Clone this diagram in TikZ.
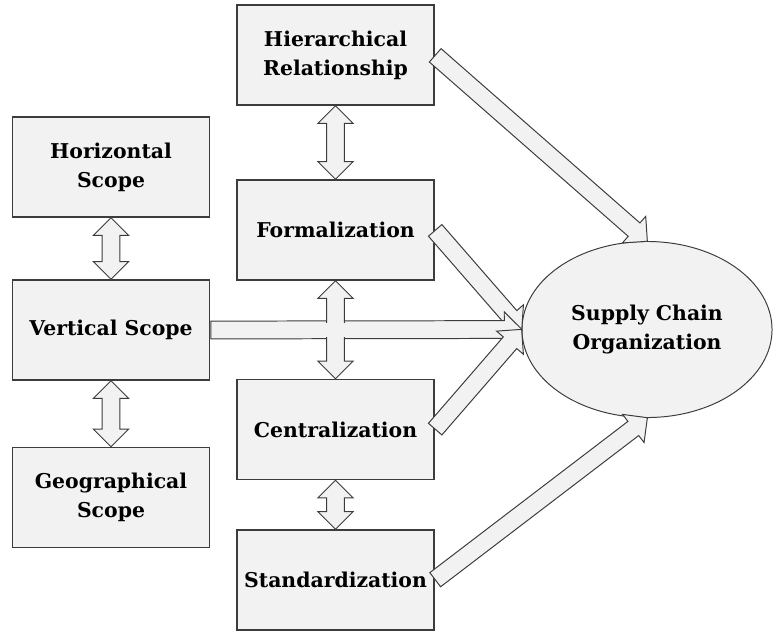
\documentclass[tikz,border=0pt]{standalone}
\usepackage{fontspec}
\setmainfont{DejaVu Serif}
\usepackage{tikz}
\usetikzlibrary{calc,shapes.geometric,shapes.arrows}
\definecolor{boxGray}{RGB}{242,242,242}
\definecolor{edgeGray}{RGB}{60,60,60}
\tikzset{
  factor/.style={draw=edgeGray, line width=1pt, fill=boxGray, minimum width=4.93cm,
    minimum height=2.5cm, align=center, font=\fontsize{14.5}{20.5}\selectfont\bfseries},
  oneway/.style={single arrow, draw=edgeGray, line width=0.7pt, fill=boxGray,
    inner xsep=0pt, inner ysep=0.21cm, single arrow head extend=0.22cm,
    single arrow tip angle=90, single arrow head indent=0pt, anchor=tail},
  twoway/.style={double arrow, draw=edgeGray, line width=0.7pt, fill=boxGray,
    inner xsep=0pt, inner ysep=0.21cm, double arrow head extend=0.22cm,
    double arrow tip angle=90, double arrow head indent=0pt, rotate=90}
}

\begin{document}
\begin{tikzpicture}[x=0.025cm, y=-0.025cm]
    \useasboundingbox (0,0) rectangle (773,632);
    \node[factor] (horiz) at (111,167) {Horizontal\\Scope};
    \node[factor] (vert) at (111,330) {Vertical Scope};
    \node[factor] (geo) at (111,497.5) {Geographical\\Scope};
    \node[factor] (hier) at (335.5,55) {Hierarchical\\Relationship};
    \node[factor] (form) at (335.5,230) {Formalization};
    \node[factor] (cent) at (335.5,429.5) {Centralization};
    \node[factor] (stand) at (335.5,580) {Standardization};
    \node[factor, ellipse, line width=0.7pt, minimum width=6.25cm, minimum height=4.4cm,
      inner sep=0pt] (org) at (647,329.5) {Supply Chain\\Organization};
    \foreach \a/\b in {hier/org.north, form/org.west, vert/org.west, cent/org.west, stand/org.south} {
       \path let \p1=($(\b)-(\a.east)$), \n1={atan2(\y1,\x1)}, \n2={veclen(\x1,\y1)} in
         node[oneway, rotate=\n1, minimum height=\n2] (to-\a) at (\a.east) {};
     }
    \foreach \a/\b in {horiz/vert, vert/geo, hier/form, form/cent, cent/stand} {
       \path let \p1=($(\a.south)-(\b.north)$), \n1={veclen(\x1,\y1)} in
         node[twoway, minimum height=\n1] (link-\a) at ($(\a.south)!0.5!(\b.north)$) {};
     }
    \node[fill=boxGray, inner sep=0pt, minimum width=0.47cm, minimum height=0.37cm]
      (cross) at (form.south |- vert.east) {};
\end{tikzpicture}
\end{document}
